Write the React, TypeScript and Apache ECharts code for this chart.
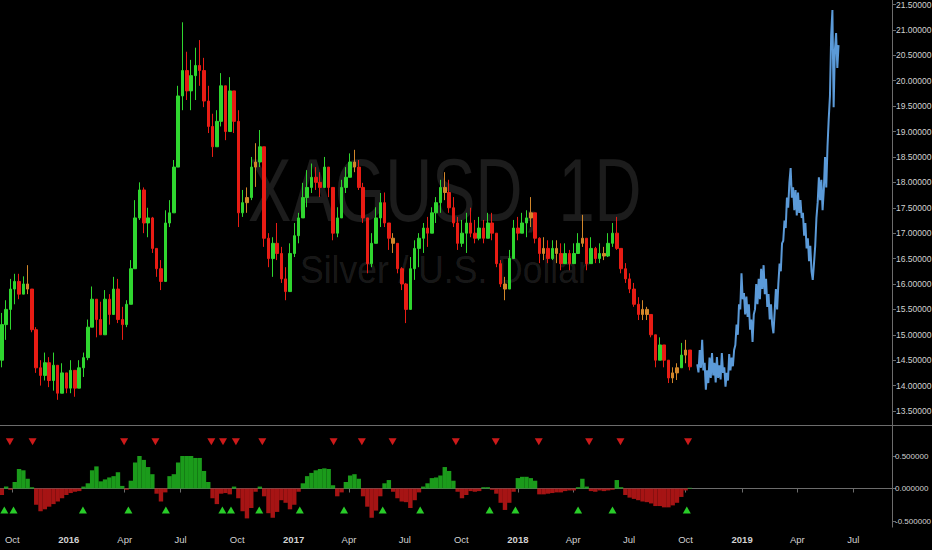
import React, { useEffect, useRef } from 'react';
import * as echarts from 'echarts';

// ---------- data ----------
const symbolTitle = 'XAGUSD, 1D';
const symbolDesc = 'Silver / U.S. Dollar';
const axisFirstDay = '2015-09-11';
const axisLastDay = '2019-09-02';
const monthNames = ['Jan', 'Feb', 'Mar', 'Apr', 'May', 'Jun', 'Jul', 'Aug', 'Sep', 'Oct', 'Nov', 'Dec'];

// weekly candles [open, close, low, high], first week starting candleStart
const candleStart = '2015-09-14';
const candles: [number, number, number, number][] = [
  [14.5, 15.2, 14.36, 15.43], [15.2, 15.5, 14.9, 15.68], [15.5, 15.9, 15.1, 16.1], [15.9, 16.05, 15.6, 16.2],
  [16.05, 15.8, 15.7, 16.2], [15.8, 16.0, 15.8, 16.15], [16.0, 15.9, 15.8, 16.37], [15.9, 15.1, 15.05, 15.9],
  [15.1, 14.35, 14.25, 15.15], [14.35, 14.2, 14.0, 14.5], [14.2, 14.45, 14.1, 14.65], [14.45, 14.1, 13.97, 14.56],
  [14.1, 14.4, 13.9, 14.65], [14.4, 13.85, 13.72, 14.4], [13.85, 14.25, 13.85, 14.44], [14.25, 13.95, 13.85, 14.25],
  [13.95, 14.3, 13.85, 14.5], [14.3, 13.95, 13.78, 14.3], [13.95, 14.35, 13.95, 14.5], [14.35, 14.55, 14.17, 14.65],
  [14.55, 15.15, 14.5, 15.3], [15.15, 15.7, 15.15, 15.95], [15.7, 15.3, 14.95, 15.7], [15.3, 15.0, 15.0, 15.65],
  [15.0, 15.7, 15.0, 15.88], [15.7, 15.4, 15.2, 15.8], [15.4, 15.9, 15.4, 16.14], [15.9, 15.3, 15.23, 16.1],
  [15.3, 15.2, 14.9, 15.55], [15.2, 15.6, 15.15, 15.68], [15.6, 16.3, 15.6, 16.47], [16.3, 17.3, 16.3, 17.65],
  [17.3, 17.85, 17.26, 18.0], [17.85, 17.2, 17.0, 17.9], [17.2, 17.3, 16.92, 17.5], [17.3, 16.7, 16.61, 17.32],
  [16.7, 16.3, 16.14, 16.7], [16.3, 16.05, 15.88, 16.47], [16.05, 17.2, 16.05, 17.45], [17.2, 17.4, 17.12, 17.65],
  [17.4, 18.3, 17.4, 18.44], [18.3, 19.7, 18.3, 19.9], [19.7, 20.2, 19.42, 21.15], [20.2, 19.8, 19.62, 20.57],
  [19.8, 20.1, 19.42, 20.41], [20.1, 20.3, 19.62, 20.65], [20.3, 20.2, 19.9, 20.8], [20.2, 19.6, 19.48, 20.45],
  [19.6, 19.1, 18.97, 19.9], [19.1, 18.7, 18.5, 19.35], [18.7, 19.2, 18.7, 19.42], [19.2, 19.9, 19.1, 20.15],
  [19.9, 19.0, 18.83, 19.9], [19.0, 19.8, 19.0, 20.07], [19.8, 19.2, 18.97, 19.8], [19.2, 17.4, 17.12, 19.42],
  [17.4, 17.6, 17.32, 17.85], [17.6, 17.7, 17.4, 17.9], [17.7, 18.3, 17.65, 18.5], [18.3, 18.4, 17.91, 18.77],
  [18.4, 18.7, 18.3, 19.03], [18.7, 16.9, 16.73, 18.7], [16.9, 16.5, 16.33, 17.0], [16.5, 16.8, 16.14, 16.92],
  [16.8, 16.6, 16.47, 17.2], [16.6, 16.1, 16.02, 16.73], [16.1, 15.85, 15.68, 16.33], [15.85, 16.6, 15.85, 16.8],
  [16.6, 16.95, 16.53, 17.2], [16.95, 17.3, 16.8, 17.4], [17.3, 17.7, 17.3, 17.99], [17.7, 17.9, 17.51, 18.24],
  [17.9, 18.1, 17.79, 18.37], [18.1, 18.0, 17.85, 18.3], [18.0, 17.9, 17.71, 18.2], [17.9, 18.3, 17.9, 18.5],
  [18.3, 17.9, 17.71, 18.3], [17.9, 17.0, 16.86, 17.9], [17.0, 17.3, 16.92, 17.51], [17.3, 17.9, 17.3, 18.05],
  [17.9, 18.1, 17.79, 18.3], [18.1, 18.4, 18.1, 18.57], [18.4, 18.3, 18.2, 18.64], [18.3, 17.9, 17.85, 18.44],
  [17.9, 17.3, 17.2, 17.99], [17.3, 16.4, 16.21, 17.3], [16.4, 16.8, 16.33, 17.0], [16.8, 17.3, 16.8, 17.51],
  [17.3, 17.6, 17.12, 17.79], [17.6, 17.2, 17.12, 17.8], [17.2, 16.9, 16.67, 17.2], [16.9, 16.8, 16.61, 17.0],
  [16.8, 16.3, 16.21, 16.8], [16.3, 16.0, 15.88, 16.33], [16.0, 15.5, 15.23, 16.02], [15.5, 16.3, 15.5, 16.53],
  [16.3, 16.7, 16.08, 16.86], [16.7, 16.9, 16.33, 17.0], [16.9, 17.1, 16.61, 17.2], [17.1, 17.0, 16.73, 17.32],
  [17.0, 17.4, 17.0, 17.51], [17.4, 17.6, 17.2, 17.71], [17.6, 17.9, 17.4, 18.05], [17.9, 17.8, 17.65, 18.2],
  [17.8, 17.5, 17.4, 18.05], [17.5, 17.2, 17.12, 17.71], [17.2, 16.8, 16.67, 17.32], [16.8, 17.0, 16.73, 17.26],
  [17.0, 17.2, 16.61, 17.4], [17.2, 17.0, 16.92, 17.5], [17.0, 16.9, 16.8, 17.26], [16.9, 17.1, 16.86, 17.32],
  [17.1, 16.9, 16.8, 17.26], [16.9, 17.2, 16.9, 17.4], [17.2, 17.0, 16.86, 17.4], [17.0, 16.4, 16.33, 17.0],
  [16.4, 16.0, 15.94, 16.47], [16.0, 15.9, 15.68, 16.14], [15.9, 16.5, 15.9, 16.67], [16.5, 17.1, 16.5, 17.26],
  [17.1, 17.0, 16.86, 17.32], [17.0, 17.2, 17.0, 17.4], [17.2, 17.3, 16.92, 17.45], [17.3, 17.4, 17.12, 17.71],
  [17.4, 16.9, 16.8, 17.4], [16.9, 16.6, 16.41, 16.92], [16.6, 16.7, 16.47, 16.92], [16.7, 16.5, 16.41, 16.86],
  [16.5, 16.7, 16.47, 16.86], [16.7, 16.6, 16.41, 16.86], [16.6, 16.4, 16.27, 16.8], [16.4, 16.6, 16.41, 16.8],
  [16.6, 16.4, 16.27, 16.67], [16.4, 16.6, 16.41, 16.8], [16.6, 16.8, 16.61, 17.0], [16.8, 16.9, 16.73, 17.36],
  [16.9, 16.4, 16.27, 16.9], [16.4, 16.7, 16.4, 16.92], [16.7, 16.5, 16.41, 16.73], [16.5, 16.6, 16.41, 16.8],
  [16.6, 16.55, 16.47, 16.73], [16.55, 16.8, 16.53, 17.0], [16.8, 17.0, 16.73, 17.2], [17.0, 16.7, 16.67, 17.32],
  [16.7, 16.3, 16.21, 16.7], [16.3, 16.1, 16.02, 16.41], [16.1, 15.9, 15.82, 16.21], [15.9, 15.6, 15.55, 16.02],
  [15.6, 15.4, 15.29, 15.74], [15.4, 15.5, 15.29, 15.68], [15.5, 15.4, 15.29, 15.55], [15.4, 15.0, 14.95, 15.4],
  [15.0, 14.5, 14.36, 15.0], [14.5, 14.8, 14.5, 14.95], [14.8, 14.5, 14.36, 14.8], [14.5, 14.15, 14.05, 14.5],
  [14.15, 14.25, 14.05, 14.36], [14.25, 14.35, 14.11, 14.44], [14.35, 14.6, 14.35, 14.84], [14.6, 14.7, 14.44, 14.9],
  [14.7, 14.37, 14.3, 14.7],
];

// weekly oscillator values (same weeks as candles)
const oscillator: number[] = [
  -0.1, 0.03, -0.02, 0.1, 0.3, 0.28, 0.15, 0.02, -0.25, -0.35, -0.32, -0.28, -0.24, -0.2, -0.15, -0.1,
  -0.07, -0.05, -0.04, 0.03, 0.08, 0.28, 0.34, 0.11, 0.14, 0.17, 0.19, 0.25, 0.04, -0.02, 0.12, 0.4,
  0.55, 0.44, 0.33, 0.22, -0.08, -0.2, -0.06, 0.19, 0.22, 0.4, 0.85, 0.78, 0.5, 0.47, 0.47, 0.27,
  0.1, -0.15, -0.24, -0.08, -0.07, -0.09, 0.03, -0.15, -0.35, -0.46, -0.3, -0.05, 0.03, -0.12, -0.38, -0.45,
  -0.36, -0.18, -0.22, -0.32, -0.25, -0.05, 0.08, 0.19, 0.24, 0.28, 0.3, 0.31, 0.3, 0.05, -0.12, -0.06,
  0.1, 0.2, 0.22, 0.15, -0.12, -0.28, -0.45, -0.34, -0.12, 0.08, 0.13, -0.05, -0.15, -0.2, -0.21, -0.3,
  -0.18, -0.06, 0.03, 0.08, 0.16, 0.17, 0.2, 0.33, 0.27, 0.12, -0.05, -0.15, -0.1, -0.04, -0.05, -0.04,
  0.02, 0.02, -0.02, -0.08, -0.22, -0.33, -0.22, -0.05, 0.16, 0.18, 0.18, 0.16, 0.12, -0.09, -0.09, -0.08,
  -0.07, -0.06, -0.06, -0.04, -0.03, -0.03, 0.02, 0.15, 0.03, -0.04, -0.05, -0.03, -0.04, -0.03, -0.02, 0.13,
  0.02, -0.1, -0.14, -0.16, -0.18, -0.2, -0.21, -0.23, -0.27, -0.27, -0.29, -0.29, -0.26, -0.22, -0.13, -0.03,
  0.01,
];

// projected path, one value every 2 days from projectionStart
const projectionStart = '2018-10-20';
const projectionStepDays = 2;
const projection: number[] = [
  14.42, 14.26, 14.7, 14.35, 14.9, 14.3, 14.45, 13.92, 14.3, 14.05, 14.55, 14.15, 14.64, 14.2, 14.45, 14.06,
  14.56, 14.15, 14.4, 14.12, 14.64, 14.25, 14.36, 13.98, 14.25, 14.1, 14.62, 14.3, 14.55, 14.38, 14.7, 14.8,
  15.2, 15.0, 15.6, 15.5, 16.21, 15.7, 15.82, 15.4, 15.75, 15.35, 15.6, 15.1, 15.3, 14.86, 15.4, 15.5,
  16.0, 15.6, 16.1, 15.7, 16.3, 15.9, 16.37, 15.8, 16.1, 15.55, 15.8, 15.3, 15.6, 15.2, 15.03, 15.45,
  15.9, 15.5, 16.0, 16.4, 16.25, 16.8, 16.85, 17.25, 17.1, 17.7, 17.5, 18.0, 18.28, 17.7, 17.9, 17.45,
  17.85, 17.35, 17.8, 17.4, 17.65, 17.3, 17.4, 16.95, 17.2, 16.7, 16.9, 16.45, 16.75, 16.25, 16.08, 16.4,
  16.75, 17.3, 17.6, 18.1, 17.65, 18.05, 17.45, 17.85, 18.5, 17.9, 18.7, 19.25, 19.7, 20.9, 21.39, 19.48,
  20.6, 20.94, 20.25, 20.7,
];

const sellSignals = [
  '2015-09-27', '2015-11-03', '2016-03-31', '2016-05-21', '2016-08-20', '2016-09-08', '2016-09-29', '2016-11-11',
  '2017-03-07', '2017-04-22', '2017-06-11', '2017-09-22', '2017-11-26', '2018-02-04', '2018-04-27', '2018-06-17',
  '2018-10-05',
];
const buySignals = [
  '2015-09-18', '2015-10-03', '2016-01-24', '2016-04-07', '2016-06-07', '2016-09-07', '2016-09-21', '2016-11-06',
  '2017-01-11', '2017-03-24', '2017-05-26', '2017-07-26', '2017-11-16', '2017-12-28', '2018-04-09', '2018-06-04',
  '2018-10-03',
];
const sellLevel = 0.72;
const buyLevel = -0.33;
const lastPrice = 14.37384;

const priceMin = 13.5;
const priceMax = 21.5;
const priceStep = 0.5;
const oscMin = -0.5;
const oscMax = 0.5;
const oscStep = 0.5;

// ---------- helpers ----------
const DAY = 86400000;
const toTime = (s: string) => Date.parse(s + 'T00:00:00Z');
const toIso = (t: number) => new Date(t).toISOString().slice(0, 10);

const axisDays: string[] = [];
for (let t = toTime(axisFirstDay); t <= toTime(axisLastDay); t += DAY) axisDays.push(toIso(t));
const weekDates = candles.map((_, i) => toIso(toTime(candleStart) + i * 7 * DAY));
const projDates = projection.map((_, i) => toIso(toTime(projectionStart) + i * projectionStepDays * DAY));

const isQuarterStart = (v: string) =>
  v.slice(8) === '01' && ['01', '04', '07', '10'].indexOf(v.slice(5, 7)) >= 0;

const FONT = "'Liberation Sans', Arial, sans-serif";
const TEXT = '#d2d2d2';
const LINE = '#6c6c6c';
const UP = '#2fd62f';
const DOWN = '#e81c14';
const FLAT = '#d2862a';

export default function App() {
  const ref = useRef<HTMLDivElement>(null);

  useEffect(() => {
    document.body.style.margin = '0';
    document.body.style.background = '#000';
    const chart = echarts.init(ref.current as HTMLDivElement, null, { renderer: 'svg' });

    const candleData = candles.map((c, i) => {
      const item: any = { value: [weekDates[i], c[0], c[1], c[2], c[3]] };
      if (Math.abs(c[1] - c[0]) <= 0.1) {
        item.itemStyle = { color: FLAT, color0: FLAT, borderColor: FLAT, borderColor0: FLAT };
      }
      return item;
    });

    const option: any = {
      backgroundColor: '#000000',
      animation: false,
      graphic: [
        {
          type: 'text', x: 248, y: 190, scaleX: 0.73, silent: true, z: 0,
          style: {
            text: symbolTitle, fill: 'rgba(255,255,255,0.11)',
            font: "89px 'Liberation Sans', Arial, sans-serif",
            textAlign: 'left', textVerticalAlign: 'middle', align: 'left', verticalAlign: 'middle',
          },
        },
        {
          type: 'text', x: 300, y: 269, scaleX: 0.91, silent: true, z: 0,
          style: {
            text: symbolDesc, fill: 'rgba(255,255,255,0.11)',
            font: "39px 'Liberation Sans', Arial, sans-serif",
            textAlign: 'left', textVerticalAlign: 'middle', align: 'left', verticalAlign: 'middle',
          },
        },
        { type: 'line', silent: true, shape: { x1: 0, y1: 425.5, x2: 932, y2: 425.5 }, style: { stroke: LINE, lineWidth: 1 } },
        { type: 'line', silent: true, shape: { x1: 892.5, y1: 0, x2: 892.5, y2: 527.5 }, style: { stroke: LINE, lineWidth: 1 } },
      ],
      grid: [
        { left: 0, right: 40, top: 4.5, height: 406.5, containLabel: false, outerBoundsMode: 'none' },
        { left: 0, right: 40, top: 456, height: 65, containLabel: false, outerBoundsMode: 'none' },
      ],
      xAxis: [
        { type: 'category', gridIndex: 0, data: axisDays, boundaryGap: false, show: false },
        {
          type: 'category', gridIndex: 1, data: axisDays, boundaryGap: false, offset: 6,
          axisLine: { show: true, lineStyle: { color: LINE } },
          axisTick: { show: true, length: 4, interval: (_i: number, v: string) => isQuarterStart(v), lineStyle: { color: LINE } },
          splitLine: { show: false },
          axisLabel: {
            interval: (_i: number, v: string) => isQuarterStart(v),
            margin: 7,
            formatter: (v: string) =>
              v.slice(5, 7) === '01' ? `{y|${v.slice(0, 4)}}` : `{m|${monthNames[Number(v.slice(5, 7)) - 1]}}`,
            rich: {
              y: { color: TEXT, fontSize: 9.5, fontWeight: 'bold', fontFamily: FONT },
              m: { color: TEXT, fontSize: 9.5, fontFamily: FONT },
            },
          },
        },
      ],
      yAxis: [
        {
          type: 'value', gridIndex: 0, position: 'right', min: priceMin, max: priceMax, interval: priceStep,
          axisLine: { show: false },
          axisTick: { show: true, length: 4, lineStyle: { color: LINE } },
          splitLine: { show: false },
          axisLabel: { color: TEXT, fontSize: 8.5, fontFamily: FONT, margin: 4, formatter: (v: number) => v.toFixed(5) },
        },
        {
          type: 'value', gridIndex: 1, position: 'right', min: oscMin, max: oscMax, interval: oscStep,
          axisLine: { show: false },
          axisTick: { show: true, length: 4, lineStyle: { color: LINE } },
          splitLine: { show: false },
          axisLabel: { color: TEXT, fontSize: 8, fontFamily: FONT, margin: 3, formatter: (v: number) => v.toFixed(6) },
        },
      ],
      series: [
        {
          type: 'candlestick', xAxisIndex: 0, yAxisIndex: 0,
          data: candleData,
          encode: { x: 0, y: [1, 2, 3, 4] },
          barWidth: 3,
          itemStyle: { color: UP, color0: DOWN, borderColor: UP, borderColor0: DOWN, borderWidth: 1 },
          markLine: {
            silent: true, symbol: 'none',
            lineStyle: { opacity: 0 },
            label: {
              show: true, position: 'end', distance: 0,
              formatter: () => lastPrice.toFixed(5),
              color: '#ffffff', backgroundColor: '#ff1010', padding: [4, 2, 3, 2],
              fontSize: 8.5, fontFamily: FONT,
            },
            data: [{ yAxis: lastPrice }],
          },
        },
        {
          type: 'line', xAxisIndex: 0, yAxisIndex: 0,
          data: projDates.map((d, i) => [d, projection[i]]),
          symbol: 'none',
          lineStyle: { color: '#5b9ad8', width: 2 },
        },
        {
          type: 'bar', xAxisIndex: 1, yAxisIndex: 1,
          data: weekDates.map((d, i) => [d, oscillator[i]]),
          barWidth: 4.4,
          itemStyle: { color: (p: any) => (p.value[1] >= 0 ? '#1b9b1b' : '#a61414') },
        },
        {
          type: 'scatter', xAxisIndex: 1, yAxisIndex: 1, clip: false,
          data: sellSignals.map((d) => [d, sellLevel]),
          symbol: 'triangle', symbolRotate: 180, symbolSize: [8, 7],
          itemStyle: { color: '#ff2020' },
        },
        {
          type: 'scatter', xAxisIndex: 1, yAxisIndex: 1, clip: false,
          data: buySignals.map((d) => [d, buyLevel]),
          symbol: 'triangle', symbolSize: [8, 7],
          itemStyle: { color: '#33ff33' },
        },
      ],
    };

    chart.setOption(option);
    return () => chart.dispose();
  }, []);

  return (
    <div
      ref={ref}
      style={{ position: 'fixed', left: 0, top: 0, width: 932, height: 550, background: '#000' }}
    />
  );
}
